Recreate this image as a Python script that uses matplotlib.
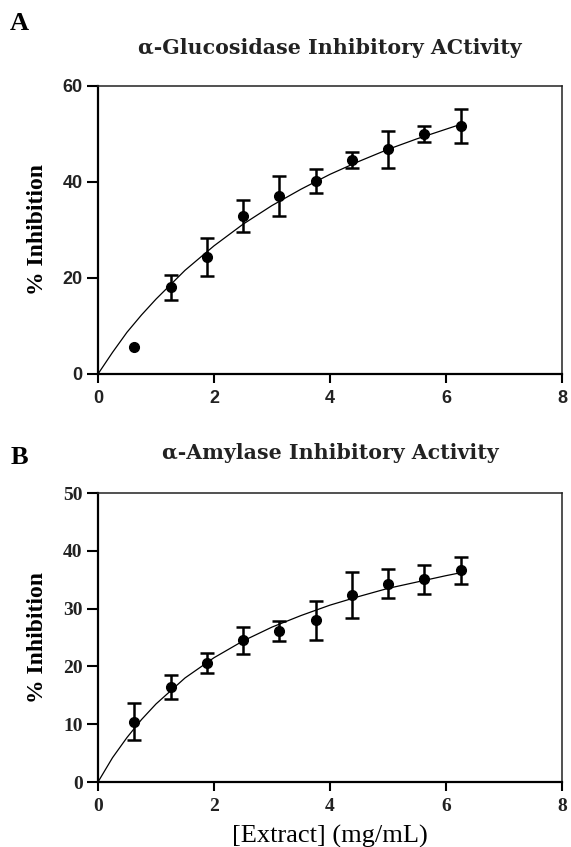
import matplotlib
matplotlib.use("Agg")
import matplotlib.pyplot as plt
import numpy as np

# concentraties extract (mg/mL)
conc = [0.625, 1.25, 1.875, 2.5, 3.125, 3.75, 4.375, 5.0, 5.625, 6.25]

# A: alpha-glucosidase
gluc_mean = [5.7, 18.1, 24.4, 32.9, 37.1, 40.2, 44.6, 46.8, 50.0, 51.7]
gluc_err = [0.0, 2.6, 3.9, 3.4, 4.2, 2.5, 1.7, 3.9, 1.6, 3.6]

# B: alpha-amylase
amyl_mean = [10.4, 16.4, 20.6, 24.5, 26.1, 28.0, 32.4, 34.3, 35.1, 36.6]
amyl_err = [3.2, 2.1, 1.8, 2.3, 1.7, 3.4, 4.0, 2.5, 2.5, 2.4]

# gefitte curves
fit_x = [0, 0.25, 0.5, 0.75, 1, 1.5, 2, 2.5, 3, 3.5, 4, 4.5, 5, 5.5, 6, 6.25]
gluc_fit = [0, 4.5, 8.7, 12.3, 15.6, 21.6, 26.7, 31.2, 35.1, 38.5, 41.6, 44.3, 46.8, 49.0, 51.0, 52.0]
amyl_fit = [0, 4.2, 7.7, 10.8, 13.5, 18.0, 21.5, 24.4, 26.8, 28.8, 30.6, 32.1, 33.5, 34.6, 35.7, 36.2]

W, H = 571, 847
fig = plt.figure(figsize=(W / 100, H / 100), dpi=100)


def panel(top_px, bot_px, mean, err, fit, ymax, ystep, tickfont):
    ax = fig.add_axes([98 / W, 1 - bot_px / H, (562 - 98) / W, (bot_px - top_px) / H])
    ax.plot(fit_x, fit, color="black", lw=0.9, zorder=2)
    e = np.array(err, dtype=float)
    e[e == 0] = np.nan  # geen foutbalk tekenen
    ax.errorbar(conc, mean, yerr=e, fmt="o", color="black", ms=7,
                elinewidth=1.8, capsize=5, capthick=1.8, zorder=3, clip_on=False)
    ax.set_xlim(0, 8)
    ax.set_ylim(0, ymax)
    ax.set_xticks(range(0, 9, 2))
    ax.set_yticks(range(0, ymax + 1, ystep))
    for s in ["left", "bottom"]:
        ax.spines[s].set_linewidth(1.6)
    for s in ["top", "right"]:
        ax.spines[s].set_linewidth(1.1)
        ax.spines[s].set_color("#222222")
    ax.tick_params(axis="y", length=8, width=1.5, pad=3)
    ax.tick_params(axis="x", length=6.5, width=1.5, pad=5)
    for lab in ax.get_xticklabels() + ax.get_yticklabels():
        lab.set_fontfamily(tickfont)
        lab.set_fontweight("bold")
        lab.set_fontsize(13 if tickfont == "Liberation Sans" else 14)
        lab.set_color("#222222")
    ax.set_ylabel("% Inhibition", fontfamily="Liberation Serif", fontweight="bold", fontsize=17)
    ax.yaxis.set_label_coords((48 - 98) / 464, 0.5)
    return ax


axA = panel(86, 374, gluc_mean, gluc_err, gluc_fit, 60, 20, "Liberation Sans")
axB = panel(493, 782, amyl_mean, amyl_err, amyl_fit, 50, 10, "Liberation Serif")
axB.set_xlabel("[Extract] (mg/mL)", fontfamily="Liberation Serif", fontsize=19)
axB.xaxis.set_label_coords(0.5, -(836 - 782) / 289)
axB.xaxis.label.set_va("center")

fig.text(10 / W, 1 - 24 / H, "A", fontfamily="Liberation Serif", fontweight="bold",
         fontsize=19, ha="left", va="center")
fig.text(11 / W, 1 - 457 / H, "B", fontfamily="Liberation Serif", fontweight="bold",
         fontsize=19, ha="left", va="center")
fig.text(330 / W, 1 - 48 / H, "\u03b1-Glucosidase Inhibitory ACtivity", fontfamily="DejaVu Serif",
         fontweight="bold", fontsize=14.8, ha="center", va="center", color="#222222")
fig.text(330 / W, 1 - 453 / H, "\u03b1-Amylase Inhibitory Activity", fontfamily="DejaVu Serif",
         fontweight="bold", fontsize=14.8, ha="center", va="center", color="#222222")

fig.savefig("out.png", dpi=100)
